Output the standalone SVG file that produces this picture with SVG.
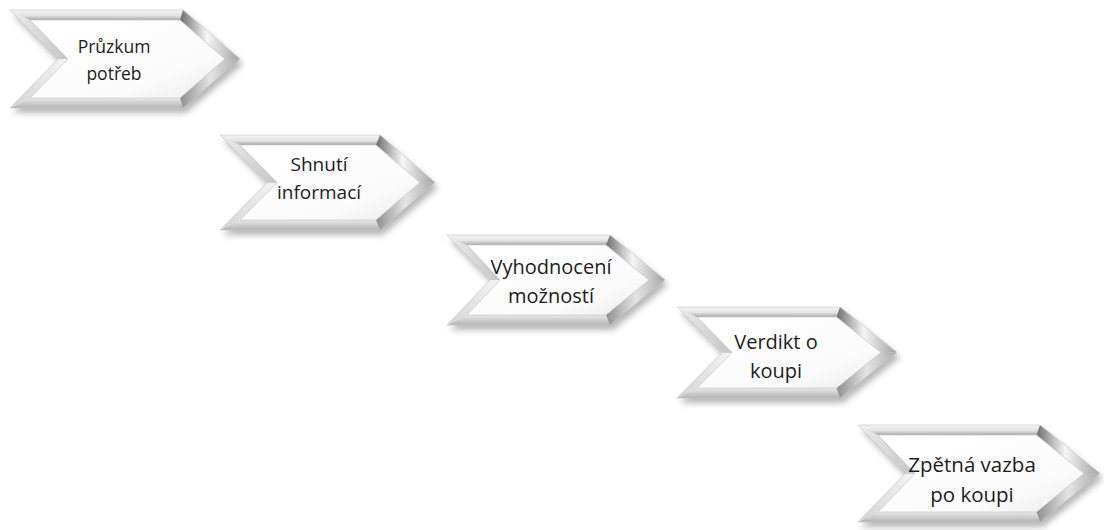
<svg xmlns="http://www.w3.org/2000/svg" width="1104" height="530" viewBox="0 0 1104 530">
<defs>
<filter id="sh" x="-20%" y="-20%" width="140%" height="150%"><feGaussianBlur stdDeviation="3"/></filter>
<linearGradient id="gTop" x1="0" y1="0" x2="0" y2="1"><stop offset="0" stop-color="#f4f4f4"/><stop offset="0.55" stop-color="#e4e4e4"/><stop offset="1" stop-color="#a8a8a8"/></linearGradient>
<linearGradient id="gUR" x1="0" y1="0" x2="1" y2="0"><stop offset="0" stop-color="#6e6e6e"/><stop offset="0.45" stop-color="#f6f6f6"/><stop offset="1" stop-color="#a0a0a0"/></linearGradient>
<linearGradient id="gLR" x1="0" y1="0" x2="1" y2="0"><stop offset="0" stop-color="#8e8e8e"/><stop offset="0.5" stop-color="#e4e4e4"/><stop offset="1" stop-color="#aaaaaa"/></linearGradient>
<linearGradient id="gBot" x1="0" y1="0" x2="0" y2="1"><stop offset="0" stop-color="#e8e8e8"/><stop offset="1" stop-color="#b4b4b4"/></linearGradient>
<linearGradient id="gLL" x1="0" y1="0" x2="1" y2="0"><stop offset="0" stop-color="#d2d2d2"/><stop offset="1" stop-color="#f6f6f6"/></linearGradient>
<linearGradient id="gUL" x1="0" y1="0" x2="1" y2="0"><stop offset="0" stop-color="#eeeeee"/><stop offset="1" stop-color="#c4c4c4"/></linearGradient>
<linearGradient id="gFace" x1="0" y1="0" x2="1" y2="1"><stop offset="0" stop-color="#ffffff"/><stop offset="0.7" stop-color="#fbfbfb"/><stop offset="1" stop-color="#ececec"/></linearGradient>
</defs>
<style>
.shadow{fill:#7a7a7a;opacity:.55;filter:url(#sh)}
.top{fill:url(#gTop)}
.ur{fill:url(#gUR)}
.lr{fill:url(#gLR)}
.bot{fill:url(#gBot)}
.ll{fill:url(#gLL)}
.ul{fill:url(#gUL)}
.face{fill:url(#gFace);stroke:#c8c8c8;stroke-width:.7}
.edge{fill:none;stroke:#c8c8c8;stroke-width:.6}
.lbl{font-family:"Open Sans","Liberation Sans",sans-serif;fill:#1c1c1c;text-anchor:middle}
</style>
<rect width="1104" height="530" fill="#ffffff"/>
<g id="connectors"/>

<g id="node1">
<polygon class="shadow" points="13,15 186,15 243,64 186,113 13,113 61,64"/>
<polygon class="top" points="10,10 183,10 180,20 30,20"/>
<polygon class="ur" points="183,10 240,59 225,59 180,20"/>
<polygon class="lr" points="240,59 183,108 180,98 225,59"/>
<polygon class="bot" points="183,108 10,108 30,98 180,98"/>
<polygon class="ll" points="10,108 58,59 68,59 30,98"/>
<polygon class="ul" points="58,59 10,10 30,20 68,59"/>
<polygon class="face" points="30,20 180,20 225,59 180,98 30,98 68,59"/>
<polygon class="edge" points="10,10 183,10 240,59 183,108 10,108 58,59"/>
<text class="lbl" font-size="17.5" x="114" y="53">Průzkum</text>
<text class="lbl" font-size="17.5" x="114" y="80">potřeb</text>
</g>

<g id="node2">
<polygon class="shadow" points="223,140 383,140 438,187.5 383,235 223,235 270,187.5"/>
<polygon class="top" points="220,135 380,135 376,145 240,145"/>
<polygon class="ur" points="380,135 435,182.5 420,182.5 376,145"/>
<polygon class="lr" points="435,182.5 380,230 376,220 420,182.5"/>
<polygon class="bot" points="380,230 220,230 240,220 376,220"/>
<polygon class="ll" points="220,230 267,182.5 277,182.5 240,220"/>
<polygon class="ul" points="267,182.5 220,135 240,145 277,182.5"/>
<polygon class="face" points="240,145 376,145 420,182.5 376,220 240,220 277,182.5"/>
<polygon class="edge" points="220,135 380,135 435,182.5 380,230 220,230 267,182.5"/>
<text class="lbl" font-size="19" x="319" y="171">Shnutí</text>
<text class="lbl" font-size="19" x="319" y="199">informací</text>
</g>

<g id="node3">
<polygon class="shadow" points="450,240 613,240 668,285 613,330 450,330 493,285"/>
<polygon class="top" points="447,235 610,235 606,245 467,245"/>
<polygon class="ur" points="610,235 665,280 649,280 606,245"/>
<polygon class="lr" points="665,280 610,325 606,315 649,280"/>
<polygon class="bot" points="610,325 447,325 467,315 606,315"/>
<polygon class="ll" points="447,325 490,280 500,280 467,315"/>
<polygon class="ul" points="490,280 447,235 467,245 500,280"/>
<polygon class="face" points="467,245 606,245 649,280 606,315 467,315 500,280"/>
<polygon class="edge" points="447,235 610,235 665,280 610,325 447,325 490,280"/>
<text class="lbl" font-size="20" x="551" y="274">Vyhodnocení</text>
<text class="lbl" font-size="20" x="551" y="303">možností</text>
</g>

<g id="node4">
<polygon class="shadow" points="680,312 843,312 900,357.5 843,403 680,403 725,357.5"/>
<polygon class="top" points="677,307 840,307 836.5,317 697,317"/>
<polygon class="ur" points="840,307 897,352.5 881,352.5 836.5,317"/>
<polygon class="lr" points="897,352.5 840,398 836.5,388 881,352.5"/>
<polygon class="bot" points="840,398 677,398 697,388 836.5,388"/>
<polygon class="ll" points="677,398 722,352.5 732,352.5 697,388"/>
<polygon class="ul" points="722,352.5 677,307 697,317 732,352.5"/>
<polygon class="face" points="697,317 836.5,317 881,352.5 836.5,388 697,388 732,352.5"/>
<polygon class="edge" points="677,307 840,307 897,352.5 840,398 677,398 722,352.5"/>
<text class="lbl" font-size="20" x="776" y="349">Verdikt o</text>
<text class="lbl" font-size="20" x="776" y="378">koupi</text>
</g>

<g id="node5">
<polygon class="shadow" points="861,430 1043,430 1103,478.5 1043,527 861,527 908,478.5"/>
<polygon class="top" points="858,425 1040,425 1036.5,435 878,435"/>
<polygon class="ur" points="1040,425 1100,473.5 1084,473.5 1036.5,435"/>
<polygon class="lr" points="1100,473.5 1040,522 1036.5,512 1084,473.5"/>
<polygon class="bot" points="1040,522 858,522 878,512 1036.5,512"/>
<polygon class="ll" points="858,522 905,473.5 915,473.5 878,512"/>
<polygon class="ul" points="905,473.5 858,425 878,435 915,473.5"/>
<polygon class="face" points="878,435 1036.5,435 1084,473.5 1036.5,512 878,512 915,473.5"/>
<polygon class="edge" points="858,425 1040,425 1100,473.5 1040,522 858,522 905,473.5"/>
<text class="lbl" font-size="20.5" x="972" y="472">Zpětná vazba</text>
<text class="lbl" font-size="20.5" x="972" y="502">po koupi</text>
</g>
</svg>
